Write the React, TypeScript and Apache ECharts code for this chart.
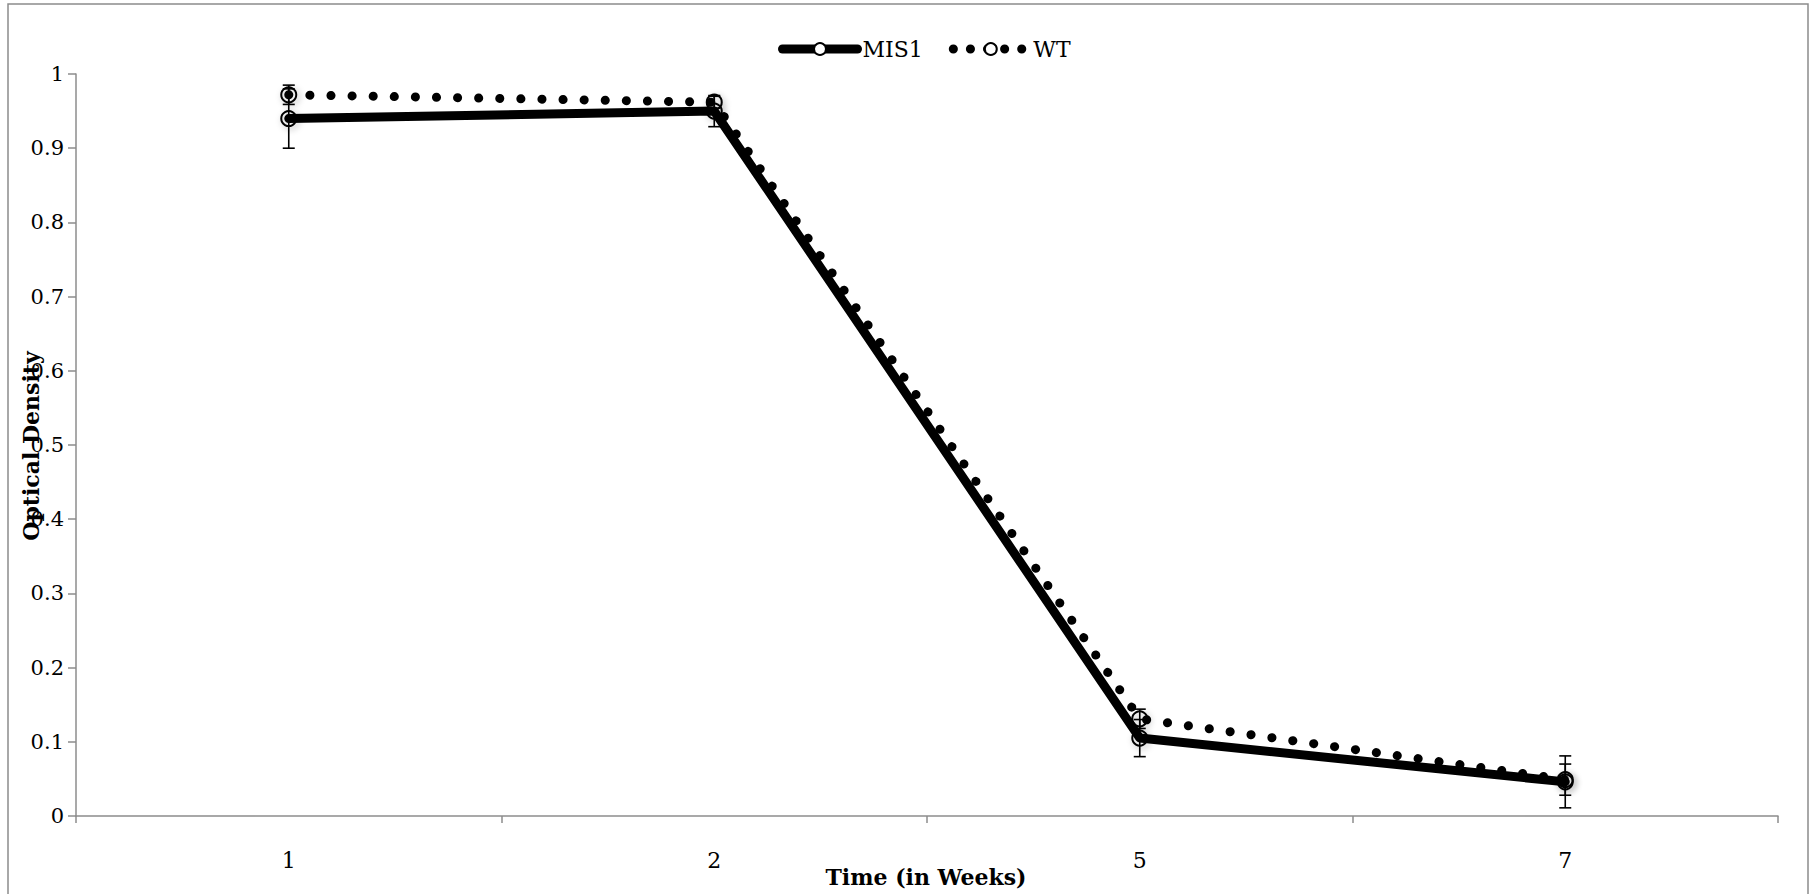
import React, { useEffect, useRef } from "react";
import * as echarts from "echarts";

const weeks = ["1", "2", "5", "7"];
const mis1 = [0.94, 0.95, 0.105, 0.046];
const mis1Err = [0.04, 0.021, 0.025, 0.035];
const wt = [0.972, 0.962, 0.131, 0.049];
const wtErr = [0.013, 0.008, 0.013, 0.021];
const yTicks = { min: 0, max: 1, interval: 0.1 };

const FONT = "'DejaVu Serif', 'Liberation Serif', serif";

function errorSeries(name: string, values: number[], errs: number[]) {
  return {
    type: "custom",
    name: name + " err",
    z: 5,
    silent: true,
    data: values.map((v, i) => [i, v - errs[i], v + errs[i]]),
    renderItem: (params: any, api: any) => {
      const lo = api.coord([api.value(0), api.value(1)]);
      const hi = api.coord([api.value(0), api.value(2)]);
      const hw = 6;
      const style = { stroke: "#000", lineWidth: 1.6 };
      return {
        type: "group",
        children: [
          { type: "line", shape: { x1: lo[0], y1: lo[1], x2: hi[0], y2: hi[1] }, style },
          { type: "line", shape: { x1: lo[0] - hw, y1: lo[1], x2: lo[0] + hw, y2: lo[1] }, style },
          { type: "line", shape: { x1: hi[0] - hw, y1: hi[1], x2: hi[0] + hw, y2: hi[1] }, style },
        ],
      };
    },
  };
}

export default function App() {
  const ref = useRef<HTMLDivElement>(null);
  useEffect(() => {
    document.body.style.margin = "0";
    const chart = echarts.init(ref.current!, undefined, { renderer: "svg" });
    const markerStyle = {
      color: "rgba(0,0,0,0)",
      borderColor: "#000",
      borderWidth: 2,
      shadowBlur: 6,
      shadowColor: "rgba(0,0,0,0.35)",
      shadowOffsetX: 2,
      shadowOffsetY: 2,
    };
    const solidLine = { color: "#000", width: 9, cap: "round", join: "round" };
    const dotLine = { color: "#000", width: 9, type: [0.1, 21], cap: "round", join: "round" };
    const legendMarker = { color: "#fff", borderColor: "#000", borderWidth: 2 };
    chart.setOption({
      animation: false,
      backgroundColor: "#fff",
      grid: { left: 76, right: 37, top: 74, bottom: 78, containLabel: false },
      legend: {
        top: 33,
        left: 773,
        itemWidth: 75,
        itemHeight: 15,
        itemGap: 26,
        textStyle: { fontFamily: FONT, fontSize: 22, color: "#000" },
        data: [
          { name: "MIS1", lineStyle: { ...solidLine, width: 9 }, itemStyle: legendMarker },
          { name: "WT", lineStyle: { ...dotLine, width: 9, type: [0.1, 17] }, itemStyle: legendMarker },
        ],
      },
      xAxis: {
        type: "category",
        data: weeks,
        boundaryGap: true,
        axisLine: { lineStyle: { color: "#8c8c8c", width: 1.5 } },
        axisTick: { show: true, interval: 0, length: 7, lineStyle: { color: "#8c8c8c", width: 1.5 } },
        axisLabel: { fontFamily: FONT, fontSize: 22, color: "#000", margin: 33 },
        splitLine: { show: false },
      },
      yAxis: {
        type: "value",
        min: yTicks.min,
        max: yTicks.max,
        interval: yTicks.interval,
        axisLine: { show: true, lineStyle: { color: "#8c8c8c", width: 1.5 } },
        axisTick: { show: true, length: 8, lineStyle: { color: "#8c8c8c", width: 1.5 } },
        axisLabel: { fontFamily: FONT, fontSize: 21, color: "#000", margin: 12 },
        splitLine: { show: false },
      },
      graphic: [
        {
          type: "rect",
          silent: true,
          shape: { x: 8, y: 4, width: 1800, height: 1000 },
          style: { fill: "none", stroke: "#8c8c8c", lineWidth: 1.5 },
          z: -10,
        },
        {
          type: "text",
          x: 926,
          y: 877,
          style: {
            text: "Time (in Weeks)",
            fontFamily: FONT,
            fontSize: 22,
            fontWeight: "bold",
            fill: "#000",
            align: "center",
            verticalAlign: "middle",
          },
        },
        {
          type: "text",
          x: 31,
          y: 446,
          rotation: Math.PI / 2,
          style: {
            text: "Optical Density",
            fontFamily: FONT,
            fontSize: 22,
            fontWeight: "bold",
            fill: "#000",
            align: "center",
            verticalAlign: "middle",
          },
        },
      ],
      series: [
        {
          name: "MIS1",
          type: "line",
          data: mis1,
          symbol: "circle",
          symbolSize: 15,
          z: 3,
          lineStyle: solidLine,
          itemStyle: markerStyle,
        },
        {
          name: "WT",
          type: "line",
          data: wt,
          symbol: "circle",
          symbolSize: 15,
          z: 4,
          lineStyle: dotLine,
          itemStyle: markerStyle,
        },
        errorSeries("MIS1", mis1, mis1Err),
        errorSeries("WT", wt, wtErr),
      ],
    });
    return () => chart.dispose();
  }, []);
  return <div ref={ref} style={{ width: 1815, height: 894 }} />;
}
